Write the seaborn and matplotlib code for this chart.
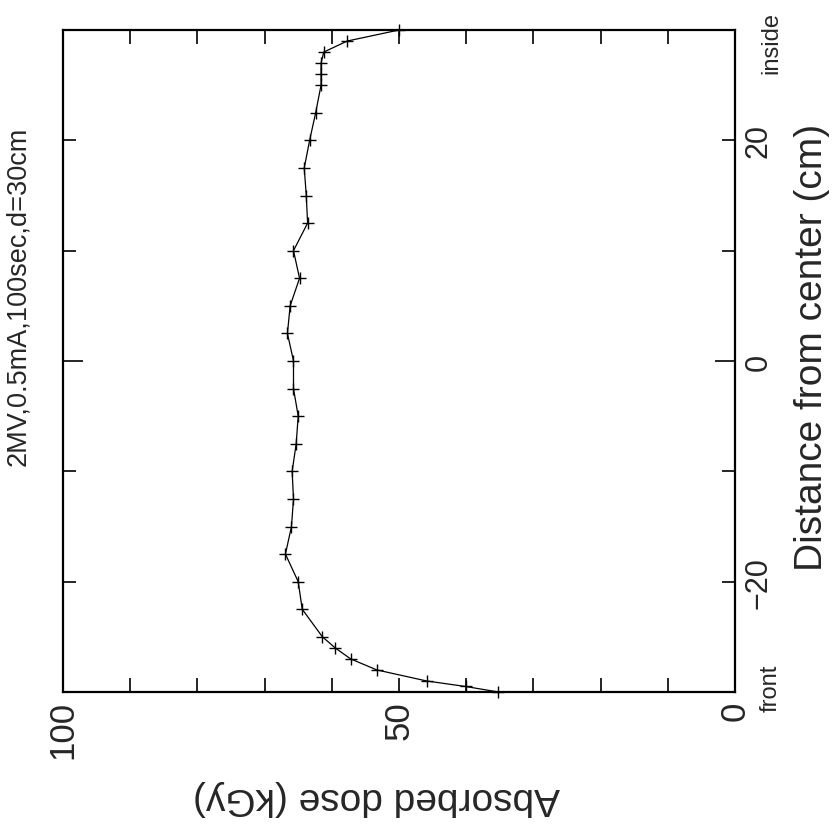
import matplotlib
matplotlib.use("Agg")
import matplotlib.pyplot as plt
import matplotlib.transforms as mtransforms
import seaborn as sns
import pandas as pd

# ---- data ----
distance_cm = [-30, -29.5, -29, -28, -27, -26, -25, -22.5, -20, -17.5, -15, -12.5,
               -10, -7.5, -5, -2.5, 0, 2.5, 5, 7.5, 10, 12.5, 15, 17.5, 20, 22.5,
               25, 26, 27, 28, 29, 30]
dose_kgy = [35.2, 40.1, 45.9, 53.3, 57.2, 59.5, 61.4, 64.4, 65.0, 66.9, 66.0, 65.7,
            65.9, 65.3, 65.0, 65.7, 65.7, 66.6, 66.2, 64.8, 65.7, 63.6, 63.8, 64.1,
            63.3, 62.4, 61.6, 61.6, 61.6, 61.2, 57.7, 50.0]
dose_ticks = [0, 50, 100]
dose_minor = [10, 20, 30, 40, 60, 70, 80, 90]
dist_ticks = [-20, -10, 0, 10, 20]
dist_labels = ["\u221220", "", "0", "", "20"]
title = "2MV,0.5mA,100sec,d=30cm"
xlab = "Absorbed dose (kGy)"
ylab = "Distance from center (cm)"

sns.set_theme(style="ticks")
plt.rcParams['font.family'] = ['Liberation Sans', 'DejaVu Sans']

df = pd.DataFrame({"dose": dose_kgy, "dist": distance_cm})

fig = plt.figure(figsize=(8.4, 8.28), dpi=100)
ax = fig.add_axes([63/840, 1-693/828, 672/840, 662/828])

sns.lineplot(data=df, x="dose", y="dist", orient="y", sort=False, estimator=None,
             color="black", linewidth=0.9, marker="+", markersize=9,
             markeredgewidth=1.0, markeredgecolor="black", clip_on=False, ax=ax)

ax.set_xlim(100, 0)
ax.set_ylim(-30, 30)

for s in ax.spines.values():
    s.set_linewidth(1.6)
    s.set_color("black")
    s.set_visible(True)

# dose ticks (horizontal axis)
ax.set_xticks(dose_ticks)
ax.set_xticklabels([str(v) for v in dose_ticks], rotation=90, fontsize=25)
ax.set_xticks(dose_minor, minor=True)
ax.tick_params(axis="x", which="both", direction="in", top=True, bottom=True,
               length=10, width=1.2, color="black", pad=6)

# distance ticks (vertical axis, labels on right)
ax.set_yticks(dist_ticks)
ax.set_yticklabels(dist_labels, rotation=90, va="center", fontsize=22)
ax.yaxis.tick_right()
ax.tick_params(axis="y", which="both", direction="in", left=True, right=True,
               labelleft=False, labelright=True, length=9.5, width=1.2,
               color="black", pad=6)
for t, v in zip(ax.yaxis.get_major_ticks(), dist_ticks):
    if v == 0:
        t.tick1line.set_markersize(14.5)
        t.tick2line.set_markersize(14.5)

ax.set_xlabel(xlab, fontsize=28, rotation=180, ha="center", va="center")
ax.xaxis.set_label_coords((376-63)/672, (693-798)/662)
ax.yaxis.set_label_position("right")
ax.set_ylabel(ylab, fontsize=28, rotation=90, ha="center", va="center")
ax.yaxis.set_label_coords((812-63)/672, (693-347)/662)

trans = mtransforms.blended_transform_factory(ax.transAxes, ax.transData)
ax.text((771-63)/672, -29.6, "front", transform=trans, rotation=90,
        ha="center", va="center", fontsize=17)
ax.text((771-63)/672, 28.9, "inside", transform=trans, rotation=90,
        ha="center", va="center", fontsize=17)

fig.text(18/840, 1-296/828, title, rotation=90, ha="center", va="center",
         fontsize=19.5)

fig.savefig("out.png", dpi=100)
